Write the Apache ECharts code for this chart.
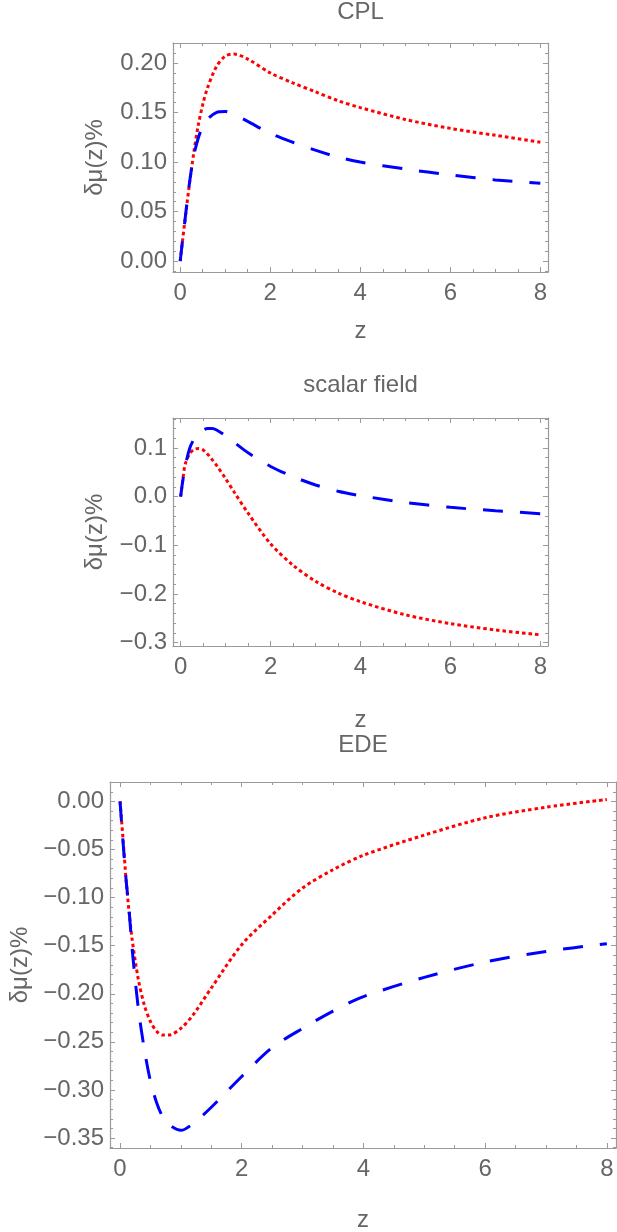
<!DOCTYPE html>
<html>
<head>
<meta charset="utf-8">
<script src="https://cdn.jsdelivr.net/npm/echarts@6/dist/echarts.min.js"></script>
<style>
  html, body { margin: 0; padding: 0; background: #fff; }
  #chart { width: 617px; height: 1232px; }
</style>
</head>
<body>
<div id="chart"></div>
<script>
// --- data ---
const zTicks = [0, 2, 4, 6, 8]

const cplZ = [0, 0.05, 0.1, 0.2, 0.3, 0.4, 0.5, 0.6, 0.8, 1, 1.2, 1.5, 2, 2.5, 3, 3.5, 4, 5, 6, 7, 8]
const cplRed = [0, 0.020, 0.039, 0.076, 0.109, 0.137, 0.158, 0.174, 0.196, 0.207, 0.209, 0.204, 0.190, 0.180, 0.171, 0.162, 0.155, 0.143, 0.134, 0.127, 0.120]
const cplBlue = [0, 0.020, 0.039, 0.077, 0.106, 0.124, 0.136, 0.143, 0.150, 0.151, 0.148, 0.141, 0.129, 0.120, 0.112, 0.105, 0.100, 0.093, 0.087, 0.082, 0.0785]
const cplYTicks = [0, 0.05, 0.1, 0.15, 0.2]

const sfZ = [0, 0.05, 0.1, 0.2, 0.3, 0.4, 0.5, 0.6, 0.7, 0.8, 1, 1.2, 1.5, 2, 2.5, 3, 3.5, 4, 5, 6, 7, 8]
const sfRed = [0, 0.036, 0.066, 0.088, 0.097, 0.099, 0.096, 0.087, 0.076, 0.064, 0.037, 0.008, -0.034, -0.097, -0.141, -0.174, -0.198, -0.216, -0.243, -0.261, -0.274, -0.284]
const sfBlue = [0, 0.034, 0.062, 0.099, 0.119, 0.131, 0.137, 0.140, 0.140, 0.137, 0.125, 0.111, 0.090, 0.062, 0.041, 0.024, 0.011, 0.002, -0.012, -0.022, -0.029, -0.035]
const sfYTicks = [-0.3, -0.2, -0.1, 0, 0.1]

const edeZ = [0, 0.05, 0.1, 0.15, 0.2, 0.3, 0.4, 0.5, 0.6, 0.7, 0.8, 1, 1.2, 1.5, 2, 2.5, 3, 3.5, 4, 5, 6, 7, 8]
const edeRed = [0, -0.040, -0.082, -0.116, -0.144, -0.185, -0.212, -0.229, -0.239, -0.243, -0.243, -0.236, -0.222, -0.194, -0.149, -0.118, -0.090, -0.071, -0.056, -0.035, -0.017, -0.006, 0.002]
const edeBlue = [0, -0.043, -0.082, -0.114, -0.154, -0.215, -0.258, -0.291, -0.313, -0.328, -0.336, -0.342, -0.335, -0.318, -0.286, -0.256, -0.236, -0.218, -0.203, -0.183, -0.167, -0.156, -0.148]
const edeYTicks = [-0.35, -0.3, -0.25, -0.2, -0.15, -0.1, -0.05, 0]

const yName = 'δμ(z)%'
const xName = 'z'

// --- look ---
const FRAME = '#9a9a9a'
const INK = '#666666'
const FONT = '"Liberation Sans", Arial, sans-serif'
const FS = 24
const redLine = { color: '#ff0000', width: 3, type: [3.5, 3] }
const blueLine = { color: '#0000ff', width: 3, type: [20, 17] }

const panels = [
  {
    title: 'CPL', titleTop: 0,
    box: { left: 173, top: 43, width: 375, height: 229 },
    xRange: [-0.16, 8.17], yRange: [-0.011, 0.2202],
    yTicks: cplYTicks, yMinorStep: 0.01, decimals: 2,
    z: cplZ, red: cplRed, blue: cplBlue,
    xNameGap: 47, yNameGap: 66
  },
  {
    title: 'scalar field', titleTop: 373,
    box: { left: 173, top: 418, width: 375, height: 228 },
    xRange: [-0.17, 8.17], yRange: [-0.307, 0.1616],
    yTicks: sfYTicks, yMinorStep: 0.02, decimals: 1,
    z: sfZ, red: sfRed, blue: sfBlue,
    xNameGap: 62, yNameGap: 66
  },
  {
    title: 'EDE', titleTop: 733,
    box: { left: 110, top: 782, width: 506, height: 366 },
    xRange: [-0.165, 8.15], yRange: [-0.3604, 0.0202],
    yTicks: edeYTicks, yMinorStep: 0.01, decimals: 2,
    z: edeZ, red: edeRed, blue: edeBlue,
    xNameGap: 60, yNameGap: 78
  }
]

function steps(from, to, step) {
  const out = []
  for (let v = from; v <= to + 1e-9; v += step) out.push(Math.round(v * 1e4) / 1e4)
  return out
}

function inRange(vals, range) {
  return vals.filter(v => v >= range[0] && v <= range[1])
}

function fmt(decimals) {
  return v => (v < -1e-9 ? '\u2212' : '') + Math.abs(v).toFixed(decimals)
}

const textStyle = { color: INK, fontSize: FS, fontFamily: FONT }

// one frame side = a major axis (line + long ticks) plus a minor axis (short ticks)
function side(gi, position, range, major, minor, labelOpts, nameOpts) {
  const base = {
    type: 'value', gridIndex: gi, position, min: range[0], max: range[1],
    splitLine: { show: false }
  }
  const majorAxis = Object.assign({}, base, {
    axisLine: { show: true, onZero: false, lineStyle: { color: FRAME, width: 1.2 } },
    axisTick: { show: true, inside: true, length: 5, customValues: major, lineStyle: { color: FRAME, width: 1 } },
    axisLabel: Object.assign({ show: false, customValues: major }, labelOpts || {})
  }, nameOpts || {})
  const minorAxis = Object.assign({}, base, {
    axisLine: { show: false, onZero: false },
    axisTick: { show: true, inside: true, length: 3, customValues: minor, lineStyle: { color: FRAME, width: 1 } },
    axisLabel: { show: false, customValues: minor }
  })
  return [majorAxis, minorAxis]
}

const grid = []
const xAxis = []
const yAxis = []
const series = []
const graphic = []

panels.forEach((p, gi) => {
  grid.push(Object.assign({ containLabel: false, outerBoundsMode: 'none' }, p.box))

  const xMinor = inRange(steps(0, 8, 0.5), p.xRange)
  const yMinor = inRange(steps(p.yTicks[0] - p.yMinorStep * 2, p.yRange[1], p.yMinorStep), p.yRange)

  const xi = xAxis.length
  xAxis.push(...side(gi, 'bottom', p.xRange, zTicks, xMinor,
    { show: true, margin: 9, formatter: v => String(Math.round(v)), ...textStyle },
    { name: xName, nameLocation: 'middle', nameGap: p.xNameGap, nameTextStyle: textStyle }))
  xAxis.push(...side(gi, 'top', p.xRange, zTicks, xMinor))

  const yi = yAxis.length
  yAxis.push(...side(gi, 'left', p.yRange, p.yTicks, yMinor,
    { show: true, margin: 6, formatter: fmt(p.decimals), ...textStyle },
    { name: yName, nameLocation: 'middle', nameRotate: 90, nameGap: p.yNameGap, nameTextStyle: textStyle }))
  yAxis.push(...side(gi, 'right', p.yRange, p.yTicks, yMinor))

  const mk = (vals, lineStyle) => ({
    type: 'line', xAxisIndex: xi, yAxisIndex: yi,
    data: p.z.map((z, i) => [z, vals[i]]),
    showSymbol: false, symbol: 'none', smooth: 0.3,
    lineStyle, z: 3
  })
  series.push(mk(p.red, redLine), mk(p.blue, blueLine))

  graphic.push({
    type: 'text',
    x: p.box.left + p.box.width / 2,
    y: p.titleTop,
    style: {
      text: p.title, fill: INK, fontSize: FS, fontFamily: FONT,
      align: 'center', verticalAlign: 'top', textAlign: 'center', textVerticalAlign: 'top'
    }
  })
})

const chart = echarts.init(document.getElementById('chart'), null, { renderer: 'canvas' })
chart.setOption({
  animation: false,
  backgroundColor: '#ffffff',
  grid, xAxis, yAxis, series, graphic
})
</script>
</body>
</html>
